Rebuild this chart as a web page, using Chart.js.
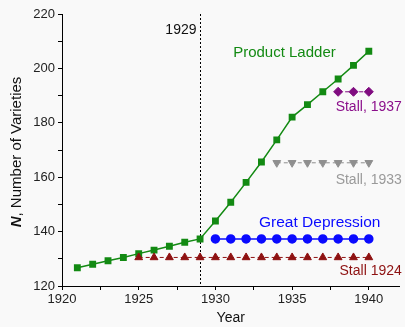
<!DOCTYPE html>
<html>
<head>
<meta charset="utf-8">
<script src="https://cdn.jsdelivr.net/npm/chart.js@4"></script>
<style>
  html, body { margin: 0; padding: 0; background: #f9f9f9; }
  canvas { display: block; }
</style>
</head>
<body>
<canvas id="chart" width="405" height="327"></canvas>
<script>
// ---- data ----
const ladderYears = [1921, 1922, 1923, 1924, 1925, 1926, 1927, 1928, 1929, 1930,
                     1931, 1932, 1933, 1934, 1935, 1936, 1937, 1938, 1939, 1940];
const ladderValues = [126.7, 128.0, 129.3, 130.5, 131.9, 133.2, 134.6, 136.1, 137.3, 143.9,
                      150.8, 158.1, 165.6, 173.7, 182.1, 186.7, 191.4, 196.1, 201.1, 206.3];
const depressionYears = [1930, 1931, 1932, 1933, 1934, 1935, 1936, 1937, 1938, 1939, 1940];
const depressionValues = [137.3, 137.3, 137.3, 137.3, 137.3, 137.3, 137.3, 137.3, 137.3, 137.3, 137.3];
const stall1924Years = [1925, 1926, 1927, 1928, 1929, 1930, 1931, 1932,
                        1933, 1934, 1935, 1936, 1937, 1938, 1939, 1940];
const stall1924Values = [130.5, 130.5, 130.5, 130.5, 130.5, 130.5, 130.5, 130.5,
                         130.5, 130.5, 130.5, 130.5, 130.5, 130.5, 130.5, 130.5];
const stall1933Years = [1934, 1935, 1936, 1937, 1938, 1939, 1940];
const stall1933Values = [165.3, 165.3, 165.3, 165.3, 165.3, 165.3, 165.3];
const stall1937Years = [1938, 1939, 1940];
const stall1937Values = [191.4, 191.4, 191.4];

const xTickLabels = [1920, 1925, 1930, 1935, 1940];
const yTickLabels = [120, 140, 160, 180, 200, 220];
const markerYear = 1929;

// text labels placed in data units: [text, x, y, color, align, size]
const annotations = [
  ['Product Ladder', 1934.5, 205.7, '#138a13', 'center', 15],
  ['Stall, 1937', 1942.15, 185.8, '#8b0f8b', 'right', 14],
  ['Stall, 1933', 1942.15, 159.0, '#9a9a9a', 'right', 14],
  ['Great Depression', 1936.8, 143.2, '#0a0aff', 'center', 15.5],
  ['Stall 1924', 1942.15, 125.5, '#8e1111', 'right', 14],
];

const pts = (xs, ys) => xs.map((x, i) => ({ x, y: ys[i] }));

const FONT = "'Liberation Sans', Arial, sans-serif";

// draws the 1929 marker, the text labels and the y title (mixed bold/italic)
const overlay = {
  id: 'overlay',
  beforeDatasetsDraw(chart) {
    const { ctx, chartArea, scales: { x, y } } = chart;
    const px = Math.round(x.getPixelForValue(markerYear)) + 0.5;
    ctx.save();
    ctx.strokeStyle = '#000';
    ctx.lineWidth = 1;
    ctx.setLineDash([2, 2]);
    ctx.beginPath();
    ctx.moveTo(px, chartArea.top);
    ctx.lineTo(px, chartArea.bottom);
    ctx.stroke();
    ctx.setLineDash([]);
    ctx.fillStyle = '#111';
    ctx.font = '14px ' + FONT;
    ctx.textAlign = 'right';
    ctx.textBaseline = 'middle';
    ctx.fillText(String(markerYear), px - 4, y.getPixelForValue(214.1));
    ctx.restore();
  },
  afterDraw(chart) {
    const { ctx, chartArea, scales: { x, y } } = chart;
    ctx.save();
    ctx.textBaseline = 'middle';
    annotations.forEach(([t, ax, ay, c, al, sz]) => {
      ctx.font = sz + 'px ' + FONT;
      ctx.fillStyle = c;
      ctx.textAlign = al;
      ctx.fillText(t, x.getPixelForValue(ax), y.getPixelForValue(ay));
    });

    // y axis title
    ctx.translate(17, (chartArea.top + chartArea.bottom) / 2);
    ctx.rotate(-Math.PI / 2);
    ctx.fillStyle = '#111';
    const boldN = 'italic bold 15px ' + FONT;
    const rest = '15px ' + FONT;
    ctx.font = boldN;
    const wN = ctx.measureText('N').width;
    ctx.font = rest;
    const wR = ctx.measureText(', Number of Varieties').width;
    let start = -(wN + wR) / 2 - 2;
    ctx.textAlign = 'left';
    ctx.font = boldN;
    ctx.fillText('N', start, 0);
    ctx.font = rest;
    ctx.fillText(', Number of Varieties', start + wN, 0);
    ctx.restore();
  }
};

const minorStep = (lo, hi, step) => {
  const out = [];
  for (let v = lo; v <= hi + 1e-9; v += step) out.push({ value: v });
  return out;
};

new Chart(document.getElementById('chart'), {
  type: 'line',
  data: {
    datasets: [
      {
        label: 'Stall 1924',
        data: pts(stall1924Years, stall1924Values),
        borderColor: '#8e1111',
        backgroundColor: '#8e1111',
        borderWidth: 1,
        borderDash: [4, 3],
        pointStyle: 'triangle',
        pointRadius: 4.5,
      },
      {
        label: 'Great Depression',
        data: pts(depressionYears, depressionValues),
        borderColor: '#0a0aff',
        backgroundColor: '#0a0aff',
        borderWidth: 1.5,
        pointStyle: 'circle',
        pointRadius: 4,
      },
      {
        label: 'Stall, 1933',
        data: pts(stall1933Years, stall1933Values),
        borderColor: '#8f8f8f',
        backgroundColor: '#8f8f8f',
        borderWidth: 1,
        borderDash: [4, 3],
        pointStyle: 'triangle',
        rotation: 180,
        pointRadius: 4.5,
      },
      {
        label: 'Stall, 1937',
        data: pts(stall1937Years, stall1937Values),
        borderColor: '#800c80',
        backgroundColor: '#800c80',
        borderWidth: 1,
        borderDash: [4, 3],
        pointStyle: 'rectRot',
        pointRadius: 4.5,
      },
      {
        label: 'Product Ladder',
        data: pts(ladderYears, ladderValues),
        borderColor: '#138a13',
        backgroundColor: '#138a13',
        borderWidth: 1.5,
        pointStyle: 'rect',
        pointRadius: 3.8,
      },
    ]
  },
  options: {
    responsive: false,
    animation: false,
    layout: { padding: { top: 14, right: 4, left: 0, bottom: 0 } },
    plugins: { legend: { display: false }, tooltip: { enabled: false } },
    elements: { line: { tension: 0 }, point: { borderWidth: 0 } },
    scales: {
      x: {
        type: 'linear',
        min: 1920,
        max: 1942,
        afterBuildTicks: (s) => { s.ticks = minorStep(1920, 1940, 2.5); },
        afterFit: (s) => { s.height = 41; },
        grid: { display: true, drawOnChartArea: false, tickLength: 4, color: '#000', tickColor: '#000' },
        border: { display: true, color: '#000', width: 1 },
        ticks: {
          color: '#222',
          font: { family: FONT, size: 13 },
          maxRotation: 0,
          autoSkip: false,
          padding: 2,
          callback: (v) => xTickLabels.includes(v) ? String(v) : '',
        },
        title: {
          display: true,
          text: 'Year',
          color: '#111',
          font: { family: FONT, size: 14 },
          padding: { top: 1, bottom: 0 },
        },
      },
      y: {
        min: 120,
        max: 220,
        afterBuildTicks: (s) => { s.ticks = minorStep(120, 220, 10); },
        afterFit: (s) => { s.width = 62; },
        grid: { display: true, drawOnChartArea: false, tickLength: 4, color: '#000', tickColor: '#000' },
        border: { display: true, color: '#000', width: 1 },
        ticks: {
          color: '#222',
          font: { family: FONT, size: 13 },
          autoSkip: false,
          padding: 3,
          callback: (v) => yTickLabels.includes(v) ? String(v) : '',
        },
      },
    },
  },
  plugins: [overlay],
});
</script>
</body>
</html>
